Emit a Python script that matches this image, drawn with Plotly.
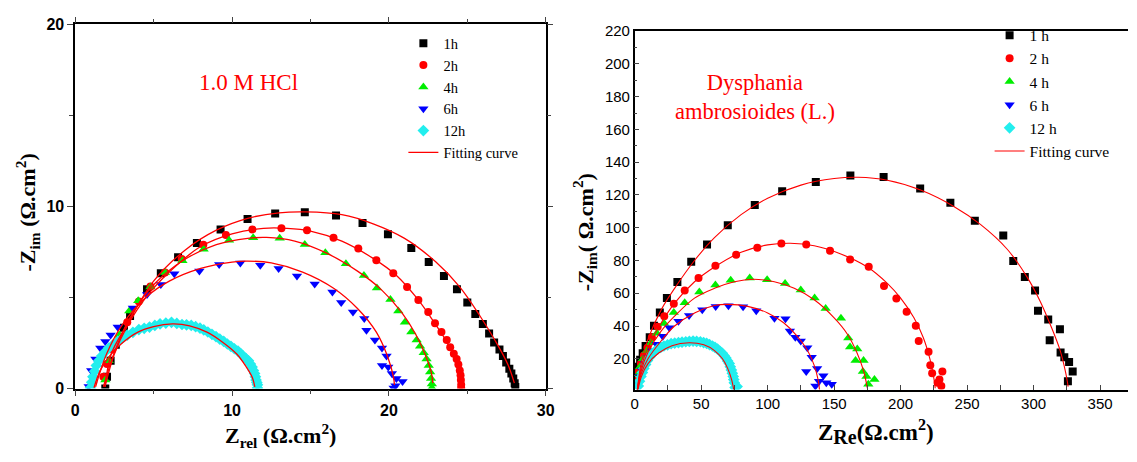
import plotly.graph_objects as go

# ---------------- Left panel: 1.0 M HCl ----------------
L_1h_x = [1.92, 2.03, 2.26, 2.59, 3.11, 3.50, 4.58, 5.46, 6.56, 7.76, 9.27, 10.99, 12.75, 14.64, 16.63, 18.32, 19.94, 21.43,
          22.54, 23.51, 24.34, 25.00, 25.51, 25.99, 26.39, 26.71, 27.05, 27.27, 27.48, 27.68, 27.81, 27.93, 28.02, 28.06]
L_1h_y = [0.00, 0.65, 1.53, 2.41, 3.34, 3.99, 5.45, 6.33, 7.21, 7.99, 8.74, 9.31, 9.62, 9.69, 9.50, 9.09, 8.48, 7.72,
          6.95, 6.19, 5.45, 4.73, 4.10, 3.55, 3.03, 2.53, 2.15, 1.79, 1.44, 1.09, 0.83, 0.56, 0.30, 0.09]
L_2h_x = [1.80, 2.03, 2.37, 2.82, 3.32, 4.06, 4.80, 5.73, 6.79, 8.17, 9.61, 11.30, 13.15, 14.78, 16.47, 18.05, 19.20, 20.28,
          21.16, 21.88, 22.51, 22.94, 23.35, 23.69, 23.91, 24.14, 24.32, 24.43, 24.52, 24.57, 24.59, 24.61, 24.61]
L_2h_y = [0.65, 1.35, 2.15, 2.76, 3.64, 4.78, 5.61, 6.37, 7.12, 7.90, 8.43, 8.74, 8.81, 8.69, 8.28, 7.70, 7.05, 6.33,
          5.58, 4.87, 4.20, 3.59, 3.11, 2.67, 2.27, 1.92, 1.62, 1.32, 1.00, 0.74, 0.47, 0.21, 0.04]
L_4h_x = [1.92, 2.14, 2.48, 2.82, 3.45, 4.02, 4.80, 5.73, 6.84, 8.19, 9.81, 11.35, 13.04, 14.64, 15.95, 17.26, 18.41, 19.24,
          20.10, 20.60, 21.02, 21.43, 21.77, 21.99, 22.22, 22.40, 22.54, 22.63, 22.69, 22.74, 22.74]
L_4h_y = [0.47, 1.53, 2.41, 2.94, 4.26, 4.82, 5.58, 6.37, 7.02, 7.65, 8.14, 8.28, 8.25, 7.92, 7.46, 6.86, 6.21, 5.52,
          4.89, 4.26, 3.64, 3.11, 2.67, 2.32, 1.97, 1.62, 1.27, 0.91, 0.56, 0.26, 0.04]
L_6h_x = [0.86, 1.02, 1.29, 1.60, 1.92, 2.26, 2.71, 3.68, 4.58, 5.46, 6.32, 7.92, 9.18, 10.53, 11.80, 12.97, 14.14, 15.27,
          16.40, 16.96, 17.71, 18.43, 18.57, 19.11, 19.56, 19.85, 19.56, 19.96, 20.19, 20.48, 20.87, 20.42, 20.30]
L_6h_y = [0.12, 1.00, 1.62, 2.23, 2.59, 2.94, 3.38, 4.43, 5.17, 5.72, 6.31, 6.46, 6.81, 6.90, 6.77, 6.60, 6.19, 5.75,
          5.31, 4.73, 4.20, 3.85, 3.20, 2.67, 2.23, 1.79, 1.27, 1.18, 0.83, 0.56, 0.39, 0.16, 0.04]
L_12h_x = [0.97, 1.05, 1.13, 1.24, 1.35, 1.50, 1.69, 1.90, 2.14, 2.42, 2.71, 3.00, 3.32, 3.68, 4.06, 4.40, 4.74, 5.08, 5.41,
           5.78, 6.14, 6.48, 6.81, 7.10, 7.40, 7.68, 7.96, 8.20, 8.46, 8.72, 8.98, 9.22, 9.47, 9.70, 9.93, 10.15, 10.38,
           10.55, 10.71, 10.88, 11.05, 11.17, 11.28, 11.36, 11.44, 11.49, 11.53, 11.58, 11.62, 11.62]
L_12h_y = [0.04, 0.35, 0.65, 0.96, 1.27, 1.53, 1.79, 2.01, 2.23, 2.41, 2.59, 2.77, 2.94, 3.09, 3.24, 3.31, 3.38, 3.47, 3.55,
           3.60, 3.64, 3.58, 3.52, 3.50, 3.47, 3.40, 3.32, 3.22, 3.11, 2.98, 2.85, 2.72, 2.59, 2.45, 2.32, 2.19, 2.06,
           1.92, 1.79, 1.66, 1.53, 1.35, 1.18, 1.00, 0.83, 0.65, 0.47, 0.34, 0.21, 0.04]

L_fit1_x = [1.9, 2.3, 3.3, 5.0, 7.0, 9.0, 11.0, 13.0, 14.7, 17.0, 19.0, 21.0, 23.0, 24.5, 25.8, 26.8, 27.6, 28.0]
L_fit1_y = [0.1, 1.9, 3.5, 5.9, 7.6, 8.7, 9.35, 9.65, 9.7, 9.55, 9.05, 8.25, 6.95, 5.6, 4.0, 2.6, 1.3, 0.3]
L_fit2_x = [1.9, 2.5, 3.3, 4.5, 6.0, 8.0, 10.0, 12.0, 13.5, 15.0, 17.0, 19.0, 20.5, 21.8, 22.8, 23.6, 24.2, 24.5, 24.6]
L_fit2_y = [0.1, 1.9, 3.4, 5.0, 6.4, 7.8, 8.5, 8.8, 8.8, 8.65, 8.1, 7.15, 6.2, 4.95, 3.75, 2.7, 1.75, 0.9, 0.2]
L_fit4_x = [1.8, 2.5, 3.5, 5.0, 7.0, 9.0, 11.0, 12.2, 14.0, 16.0, 18.0, 19.5, 20.8, 21.7, 22.3, 22.7, 22.8]
L_fit4_y = [0.1, 2.0, 3.9, 5.7, 7.1, 7.9, 8.25, 8.3, 8.1, 7.45, 6.45, 5.45, 4.2, 3.0, 1.9, 0.9, 0.3]
L_fit6_x = [1.3, 2.0, 3.0, 4.5, 6.0, 8.0, 10.0, 11.0, 12.5, 14.5, 16.5, 18.0, 19.2, 19.9, 20.3, 20.35]
L_fit6_y = [0.1, 1.9, 3.5, 5.0, 5.9, 6.6, 6.95, 7.0, 6.9, 6.4, 5.5, 4.4, 3.1, 1.8, 0.6, 0.2]
L_fit12_x = [1.2, 1.6, 2.2, 3.0, 4.0, 5.0, 6.2, 7.3, 8.4, 9.4, 10.3, 10.9, 11.3, 11.45]
L_fit12_y = [0.05, 1.0, 1.8, 2.5, 3.1, 3.4, 3.55, 3.45, 3.1, 2.55, 1.9, 1.2, 0.6, 0.1]

# ---------------- Right panel: Dysphania ambrosioides (L.) ----------------
R_1h_x = [325.8, 329.4, 326.7, 323.1, 320.3, 319.8, 312.1, 311.0, 303.3, 301.1, 293.4, 284.7, 277.2, 255.8, 237.4, 214.7,
          187.2, 162.2, 136.2, 110.9, 90.3, 70.0, 54.4, 42.5, 32.1, 24.2, 18.9, 14.5, 11.3, 8.2, 6.0, 4.1, 2.7, 1.4, 0.8]
R_1h_y = [6.3, 12.2, 18.0, 21.0, 23.9, 38.0, 31.3, 44.0, 49.3, 61.6, 69.9, 79.6, 95.3, 104.3, 115.2, 124.0,
          131.0, 131.8, 127.9, 122.2, 113.8, 101.5, 89.8, 79.2, 66.9, 57.1, 48.3, 40.1, 33.1, 27.8, 23.3, 19.4, 15.1, 10.2, 6.3]
R_2h_x = [230.6, 229.2, 231.4, 227.8, 223.7, 222.3, 221.0, 213.6, 211.4, 204.5, 196.8, 187.5, 176.0, 162.0, 146.9, 129.0,
          110.3, 92.2, 76.3, 60.7, 48.0, 37.6, 29.4, 22.2, 17.3, 12.9, 9.6, 6.9, 4.7, 3.0, 1.9]
R_2h_y = [3.4, 7.3, 12.2, 5.3, 11.2, 16.1, 24.3, 30.8, 40.1, 48.7, 56.8, 64.4, 76.1, 80.6, 85.9, 89.8,
          90.4, 87.8, 83.5, 76.7, 69.3, 61.6, 53.6, 46.0, 39.6, 33.1, 26.8, 22.0, 17.1, 12.2, 7.3]
R_4h_x = [180.3, 175.7, 174.3, 171.6, 172.1, 166.1, 167.4, 162.0, 160.6, 155.1, 143.6, 135.3, 124.9, 113.1, 99.6, 86.5,
          72.2, 60.7, 48.6, 37.6, 29.4, 22.2, 16.7, 12.4, 9.1, 6.3, 4.1, 2.5, 1.4]
R_4h_y = [7.3, 4.4, 9.2, 12.2, 19.0, 19.0, 25.9, 27.2, 32.7, 44.8, 50.7, 57.1, 62.0, 65.9, 68.3, 69.3,
          67.9, 65.0, 60.7, 54.2, 48.3, 41.5, 35.6, 29.8, 24.9, 20.0, 15.1, 10.2, 5.3]
R_6h_x = [148.2, 144.1, 138.6, 135.9, 141.9, 137.2, 129.0, 133.1, 129.8, 124.9, 120.8, 116.7, 113.4, 105.1, 91.4, 81.5,
          70.5, 60.9, 50.8, 40.9, 32.9, 26.1, 21.1, 16.5, 12.9, 10.2, 7.7, 5.5, 3.6, 1.9]
R_6h_y = [4.4, 5.3, 6.3, 3.4, 9.6, 14.1, 12.2, 21.0, 26.8, 30.8, 33.1, 37.0, 44.4, 44.8, 49.3, 51.7,
          52.3, 51.9, 49.9, 46.4, 42.9, 39.0, 33.7, 28.8, 24.9, 21.0, 17.1, 13.2, 9.2, 5.3]
R_12h_x = [2.7, 3.6, 4.7, 5.8, 6.9, 8.2, 9.6, 11.2, 12.9, 15.0, 17.3, 19.6, 22.0, 24.7, 27.4, 30.1, 32.9, 35.6, 38.4,
           41.1, 43.9, 46.6, 49.4, 51.8, 54.1, 56.3, 58.5, 60.4, 62.3, 64.1, 65.9, 67.3, 68.6, 69.9, 71.1, 71.9, 72.7,
           73.4, 74.1, 74.5, 74.9, 75.5, 77.0]
R_12h_y = [3.4, 6.3, 9.2, 11.6, 14.1, 16.5, 19.0, 21.0, 22.9, 24.4, 25.9, 26.9, 27.8, 28.5, 29.2, 29.5, 29.8, 30.1, 30.4,
           30.6, 30.8, 30.6, 30.4, 29.9, 29.4, 28.6, 27.8, 26.9, 25.9, 24.6, 23.3, 21.9, 20.4, 18.7, 17.1, 15.1, 13.2,
           11.2, 9.2, 7.3, 5.3, 2.4, 3.0]

R_fit1_x = [2, 5, 10, 20, 30, 45, 60, 80, 100, 125, 150, 168, 190, 215, 240, 260, 280, 295, 305, 313, 320, 324, 326]
R_fit1_y = [1.5, 18, 32, 50, 63, 80, 94, 108, 118, 126, 130, 130.8, 129, 123, 113, 102, 87, 70, 55, 40, 25, 12, 3]
R_fit2_x = [2, 5, 10, 20, 30, 45, 60, 80, 100, 117, 135, 155, 175, 190, 200, 210, 217, 222, 225, 226]
R_fit2_y = [1, 15, 27, 42, 54, 67, 76, 85, 89.5, 90.5, 89, 84, 76, 66, 57, 45, 33, 20, 8, 2]
R_fit4_x = [2, 5, 10, 20, 30, 45, 60, 75, 89, 105, 120, 135, 150, 160, 167, 172, 175]
R_fit4_y = [1, 13, 24, 37, 46, 57, 63, 67, 68.5, 67, 63, 56, 45, 35, 24, 13, 2]
R_fit6_x = [2, 5, 10, 20, 30, 45, 60, 70, 85, 100, 112, 122, 130, 135, 138, 139]
R_fit6_y = [1, 11, 20, 31, 40, 48, 52.5, 53.2, 52, 48, 42, 34, 25, 16, 7, 1]
R_fit12_x = [2.5, 5, 10, 18, 28, 41, 52, 60, 66, 70, 73, 74.5]
R_fit12_y = [1, 9, 17, 23.5, 28, 29.8, 28.5, 25, 20, 14, 7, 1]

left_labels = ["1h", "2h", "4h", "6h", "12h"]
right_labels = ["1 h", "2 h", "4 h", "6 h", "12 h"]
colors = ["#000000", "#ff0000", "#00ee00", "#0000ff", "#22eeee"]
symbols = ["square", "circle", "triangle-up", "triangle-down", "diamond"]
sizes = [8, 8, 9, 9, 9]
FIT = "#ff0000"
SERIF = "Liberation Serif"
SANS = "Liberation Sans"

fig = go.Figure()

left_data = [(L_1h_x, L_1h_y), (L_2h_x, L_2h_y), (L_4h_x, L_4h_y), (L_6h_x, L_6h_y), (L_12h_x, L_12h_y)]
left_fits = [(L_fit1_x, L_fit1_y), (L_fit2_x, L_fit2_y), (L_fit4_x, L_fit4_y), (L_fit6_x, L_fit6_y), (L_fit12_x, L_fit12_y)]
right_data = [(R_1h_x, R_1h_y), (R_2h_x, R_2h_y), (R_4h_x, R_4h_y), (R_6h_x, R_6h_y), (R_12h_x, R_12h_y)]
right_fits = [(R_fit1_x, R_fit1_y), (R_fit2_x, R_fit2_y), (R_fit4_x, R_fit4_y), (R_fit6_x, R_fit6_y), (R_fit12_x, R_fit12_y)]

for i, (x, y) in enumerate(left_data):
    fig.add_trace(go.Scatter(x=x, y=y, mode="markers", name=left_labels[i], legend="legend",
                             marker=dict(symbol=symbols[i], color=colors[i], size=sizes[i]),
                             xaxis="x", yaxis="y"))
for i, (x, y) in enumerate(left_fits):
    fig.add_trace(go.Scatter(x=x, y=y, mode="lines", name="Fitting curve", legend="legend",
                             showlegend=(i == 0), line=dict(color=FIT, width=1.3, shape="spline"),
                             xaxis="x", yaxis="y"))
for i, (x, y) in enumerate(right_data):
    fig.add_trace(go.Scatter(x=x, y=y, mode="markers", name=right_labels[i], legend="legend2",
                             marker=dict(symbol=symbols[i], color=colors[i], size=sizes[i]),
                             xaxis="x2", yaxis="y2"))
for i, (x, y) in enumerate(right_fits):
    fig.add_trace(go.Scatter(x=x, y=y, mode="lines", name="Fitting curve", legend="legend2",
                             showlegend=(i == 0), line=dict(color=FIT, width=1.1, shape="spline"),
                             xaxis="x2", yaxis="y2"))

W, H = 1137, 462
def px(v):
    return v / W
def py(v):
    return 1 - v / H

axis_common = dict(showgrid=False, zeroline=False, showline=True, linecolor="black", linewidth=1.5)

fig.update_layout(
    width=W, height=H,
    margin=dict(l=0, r=0, t=0, b=0),
    paper_bgcolor="white", plot_bgcolor="white",
    xaxis=dict(domain=[px(72), px(548)], range=[0, 30], tickvals=[0, 10, 20, 30],
               ticks="outside", ticklen=6, tickwidth=1.3, mirror="allticks",
               minor=dict(dtick=5, ticks="outside", ticklen=4, tickwidth=1.1),
               tickfont=dict(family=SANS, size=16, color="black", weight="bold"),
               anchor="y", **axis_common),
    yaxis=dict(domain=[1 - 395 / H, 1 - 16 / H], range=[0, 20], tickvals=[0, 10, 20],
               ticks="outside", ticklen=6, tickwidth=1.3, mirror="allticks",
               minor=dict(dtick=5, ticks="outside", ticklen=4, tickwidth=1.1),
               tickfont=dict(family=SANS, size=16, color="black", weight="bold"),
               anchor="x", **axis_common),
    xaxis2=dict(domain=[px(638), 1.0], range=[0, 371], tickvals=[0, 50, 100, 150, 200, 250, 300, 350],
                ticks="inside", ticklen=5, tickwidth=1.1,
                minor=dict(dtick=25, ticks="inside", ticklen=5, tickwidth=1.1),
                tickfont=dict(family=SANS, size=15, color="black"),
                anchor="y2", mirror=True, **axis_common),
    yaxis2=dict(domain=[1 - 396 / H, 1 - 23 / H], range=[1.2, 220],
                tickvals=[20, 40, 60, 80, 100, 120, 140, 160, 180, 200, 220],
                ticks="inside", ticklen=5, tickwidth=1.1,
                minor=dict(dtick=10, ticks="inside", ticklen=3, tickwidth=1.1),
                tickfont=dict(family=SANS, size=15, color="black"),
                anchor="x2", mirror=False, **axis_common),
    legend=dict(x=px(404), y=py(19), xanchor="left", yanchor="top", bgcolor="rgba(0,0,0,0)",
                font=dict(family=SERIF, size=14.5, color="black"), tracegroupgap=0, itemwidth=30),
    legend2=dict(x=px(997), y=py(10), xanchor="left", yanchor="top", bgcolor="rgba(0,0,0,0)",
                 font=dict(family=SERIF, size=15.5, color="black"), tracegroupgap=0, itemwidth=30),
    showlegend=True,
)

annotations = [
    dict(text="1.0 M HCl", x=px(247), y=py(76), font=dict(family=SERIF, size=23, color="#ff0000")),
    dict(text="Dysphania<br>ambrosioides (L.)", x=px(760), y=py(92), font=dict(family=SERIF, size=22.5, color="#ff0000")),
    dict(text="<b>Z<sub>rel</sub> (Ω.cm<sup>2</sup>)</b>", x=px(280), y=py(444),
         font=dict(family=SERIF, size=22, color="black")),
    dict(text="<b>-Z<sub>im</sub> (Ω.cm<sup>2</sup>)</b>", x=px(24), y=py(212), textangle=-90,
         font=dict(family=SERIF, size=22, color="black")),
    dict(text="<b>Z<sub><span style='font-size:20px'>Re</span></sub>(Ω.cm<sup>2</sup>)</b>", x=px(882), y=py(440),
         font=dict(family=SERIF, size=23, color="black")),
    dict(text="<b>-Z<sub>im</sub>( Ω.cm<sup>2</sup>)</b>", x=px(588), y=py(232), textangle=-90,
         font=dict(family=SERIF, size=22, color="black")),
]
for a in annotations:
    a.update(xref="paper", yref="paper", showarrow=False, xanchor="center", yanchor="middle")
fig.update_layout(annotations=annotations)

fig.write_html("out.html")
